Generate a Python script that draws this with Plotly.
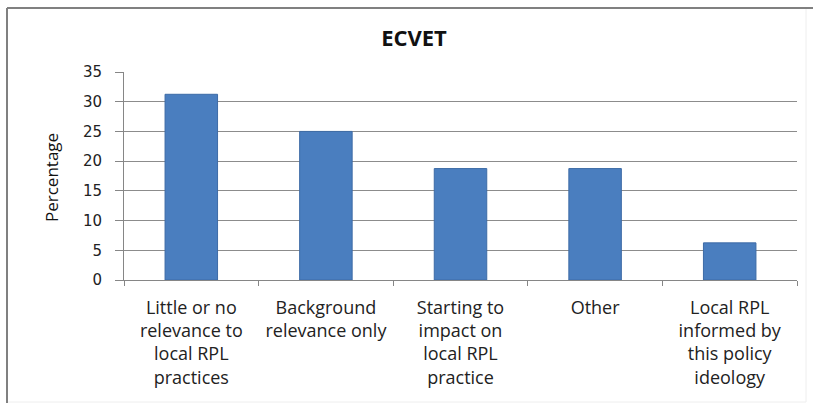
import plotly.graph_objects as go

# Survey responses on the relevance of ECVET (percentage of respondents)
categories = [
    "Little or no<br>relevance to<br>local RPL<br>practices",
    "Background<br>relevance only",
    "Starting to<br>impact on<br>local RPL<br>practice",
    "Other",
    "Local RPL<br>informed by<br>this policy<br>ideology",
]
percentages = [31.25, 25.0, 18.75, 18.75, 6.25]
y_ticks = [0, 5, 10, 15, 20, 25, 30, 35]

W, H = 813, 406
L, R, T, B = 124, 16, 72, 126
pw, ph = W - L - R, H - T - B


def px(x):
    return (x - L) / pw


def py(y):
    return (H - B - y) / ph


fig = go.Figure(
    go.Bar(
        x=categories,
        y=percentages,
        marker=dict(color="#4A7EBF", line=dict(color="#3D6BA6", width=1)),
        width=0.39,
    )
)

fig.update_layout(
    width=W,
    height=H,
    margin=dict(l=L, r=R, t=T, b=B),
    paper_bgcolor="white",
    plot_bgcolor="white",
    showlegend=False,
    title=dict(
        text="<b>ECVET</b>",
        font=dict(family="Open Sans", size=22, color="#111111"),
        xref="container", x=414 / W, xanchor="center",
        yref="container", y=1 - 38 / H, yanchor="middle",
    ),
    xaxis=dict(
        type="category",
        showline=True, linecolor="#868686", linewidth=1,
        ticks="outside", tickson="boundaries", ticklen=5, tickcolor="#868686",
        tickfont=dict(family="Open Sans", size=18, color="#222222"),
        ticklabelstandoff=11,
        showgrid=False,
    ),
    yaxis=dict(
        range=[0, 35],
        tickvals=y_ticks,
        showline=True, linecolor="#868686", linewidth=1,
        ticks="outside", ticklen=8, tickcolor="#868686",
        tickfont=dict(family="DejaVu Sans", size=15, color="#222222"),
        ticklabelstandoff=10,
        showgrid=True, gridcolor="#8C8C8C", gridwidth=1,
        zeroline=False,
    ),
    annotations=[
        dict(
            text="Percentage", textangle=-90,
            xref="paper", yref="paper", x=px(51), y=py(178),
            xanchor="center", yanchor="middle", showarrow=False,
            font=dict(family="Open Sans", size=17, color="#111111"),
        )
    ],
    shapes=[
        # chart frame
        dict(type="line", xref="paper", yref="paper",
             x0=px(7), x1=px(813), y0=py(8), y1=py(8),
             line=dict(color="#808080", width=2)),
        dict(type="line", xref="paper", yref="paper",
             x0=px(7), x1=px(7), y0=py(8), y1=py(403),
             line=dict(color="#808080", width=2)),
        dict(type="line", xref="paper", yref="paper",
             x0=px(806), x1=px(806), y0=py(9), y1=py(402),
             line=dict(color="#EEEEEE", width=1)),
        dict(type="line", xref="paper", yref="paper",
             x0=px(8), x1=px(806), y0=py(402), y1=py(402),
             line=dict(color="#EEEEEE", width=1)),
    ],
)

fig.write_html("out.html")
